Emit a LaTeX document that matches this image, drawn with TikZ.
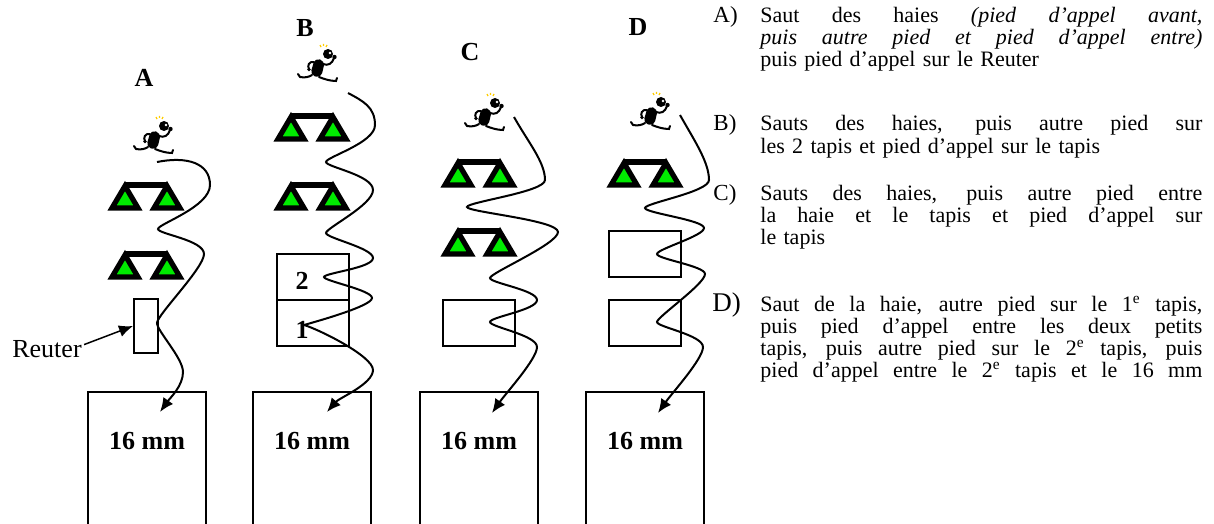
\documentclass[tikz,border=0pt]{standalone}
\usepackage{fontspec}
\setmainfont{Liberation Serif}
\usetikzlibrary{arrows.meta}
\newlength\legw
\setlength\legw{221pt}
% one line of a justified paragraph, spaces stretched to the full width
\newcommand\justline[1]{\hbox to\legw{\spaceskip=.25em plus 1fil\relax\xspaceskip=.25em plus 1fil\relax #1}}
\definecolor{hgreen}{RGB}{0,235,0}
\definecolor{spark}{RGB}{255,205,0}
\begin{document}
\begin{tikzpicture}[x=0.5pt,y=-0.5pt,
  mat/.style={draw,line width=1pt,inner sep=0pt,minimum width=36pt,minimum height=23pt},
  reuterbox/.style={draw,line width=1pt,inner sep=0pt,minimum width=12pt,minimum height=27pt},
  bigmat/.style={draw,line width=1pt,inner sep=0pt,minimum width=59pt,minimum height=80pt},
  boldtext/.style={inner sep=0pt,font=\fontsize{13}{15}\selectfont\bfseries},
  legtext/.style={anchor=base west,inner sep=0pt,text width=\legw,align=left,font=\fontsize{11}{11}\selectfont},
  leglabel/.style={anchor=base west,inner sep=0pt,font=\fontsize{11.5}{11}\selectfont},
  wave/.style={line width=1pt,-{Latex[length=7pt,width=6pt]}},
  limb/.style={line width=1pt,line cap=round},
  hurdle/.pic={
    \draw[line width=2.6pt,fill=hgreen,line join=miter] (-34,12) -- (-8,12) -- (-21,-10) -- cycle;
    \draw[line width=2.6pt,fill=hgreen,line join=miter] (8,12) -- (34,12) -- (21,-10) -- cycle;
    \draw[line width=2.6pt] (-21,-11) -- (21,-11);
  },
  runner/.pic={
    \draw[spark,line width=0.6pt] (2,-23) -- (3,-21) (5.5,-24) -- (5.5,-22) (9,-23) -- (8,-21);
    \fill (10,-14) circle[radius=5];
    \fill[white] (12,-15) circle[radius=1.3];
    \fill[rounded corners=2.5] (-3,-10) -- (7,-7) -- (3,10) -- (-8,7) -- cycle;
    \draw[limb] (5,-4) .. controls (10,-2) and (14,-4) .. (16,-10);
    \fill (16.5,-11) circle[radius=2.2];
    \draw[limb] (-4,-6) .. controls (-9,-7) and (-11,-2) .. (-9,1);
    \fill (-9,1.5) circle[radius=1.8];
    \draw[limb] (-6,7) .. controls (-9,9) and (-13,10) .. (-18,9) -- (-20,6);
    \draw[limb] (1,9) .. controls (6,11) and (12,13) .. (18,13) -- (19,10);
  }
]
\useasboundingbox (0,0) rectangle (1214,524);

% column headings
\node[boldtext] (hA) at (144,78) {A};
\node[boldtext] (hB) at (305,28) {B};
\node[boldtext] (hC) at (470,52) {C};
\node[boldtext] (hD) at (638,27) {D};

% runners
\pic at (154,140) {runner};
\pic at (318,68) {runner};
\pic at (485,117) {runner};
\pic at (651,116) {runner};

% hurdles
\pic at (146,196) {hurdle};
\pic at (146,265) {hurdle};
\pic at (312,127) {hurdle};
\pic at (312,196) {hurdle};
\pic at (479,173) {hurdle};
\pic at (479,242) {hurdle};
\pic at (645,173) {hurdle};

% Reuter board and small mats
\node[reuterbox] (reuter) at (146,326) {};
\node[mat] (b2) at (312.5,277) {};
\node[mat] (b1) at (312.5,323) {};
\node[boldtext] (n2) at (302,281) {2};
\node[boldtext] (n1) at (302,330) {1};
\node[mat] (c1) at (479,323) {};
\node[mat] (d2) at (645,254) {};
\node[mat] (d1) at (645,323) {};

% 16 mm landing mats
\foreach \n/\x in {A/147,B/312,C/479,D/645}{
  \node[bigmat] (big\n) at (\x,472) {};
  \node[boldtext] (mm\n) at ([yshift=-25pt]big\n.north) {16 mm};
}

% Reuter label
\node[inner sep=0pt,anchor=base,font=\fontsize{13}{15}\selectfont] (rt) at (47,357) {Reuter};
\draw[line width=0.75pt,-{Latex[length=7pt,width=6pt]}] ([xshift=1pt,yshift=2pt]rt.east) -- (reuter.west);

% run-up paths
\coordinate (sA) at (157,162);
\coordinate (eA) at (160,412);
\draw[wave] (sA) .. controls +(30,-6) and +(0,-22) .. (210,185)
  .. controls +(0,22) and +(0,-5) .. (158,229)
  .. controls +(0,5) and +(0,-14) .. (204,254)
  .. controls +(0,14) and +(0,-8) .. (157,323)
  .. controls +(0,8) and +(0,-14) .. (183,372)
  .. controls +(0,14) and +(10,-14) .. (eA);

\coordinate (sB) at (348,93);
\coordinate (eB) at (327,412);
\draw[wave] (sB) .. controls +(15,8) and +(0,-18) .. (375,125)
  .. controls +(0,18) and +(0,-5) .. (326,162)
  .. controls +(0,5) and +(0,-15) .. (373,190)
  .. controls +(0,15) and +(0,-5) .. (326,233)
  .. controls +(0,5) and +(0,-10) .. (373,258)
  .. controls +(0,10) and +(0,-4) .. (324,277)
  .. controls +(0,4) and +(0,-8) .. (372,298)
  .. controls +(0,8) and +(14,-4) .. (304,325)
  .. controls +(14,4) and +(0,-14) .. (373,370)
  .. controls +(0,14) and +(12,-14) .. (eB);

\coordinate (sC) at (514,117);
\coordinate (eC) at (492,413);
\draw[wave] (sC) .. controls +(14,25) and +(0,-18) .. (545,180)
  .. controls +(0,12) and +(0,-5) .. (467,207)
  .. controls +(0,5) and +(0,-12) .. (558,232)
  .. controls +(0,12) and +(0,-5) .. (490,278)
  .. controls +(0,5) and +(0,-10) .. (537,300)
  .. controls +(0,10) and +(0,-5) .. (490,322)
  .. controls +(0,5) and +(0,-12) .. (537,347)
  .. controls +(0,12) and +(14,-20) .. (eC);

\coordinate (sD) at (680,115);
\coordinate (eD) at (658,413);
\draw[wave] (sD) .. controls +(14,25) and +(0,-18) .. (709,180)
  .. controls +(0,12) and +(0,-5) .. (645,208)
  .. controls +(0,5) and +(0,-8) .. (704,228)
  .. controls +(0,8) and +(0,-5) .. (657,254)
  .. controls +(0,5) and +(0,-8) .. (705,274)
  .. controls +(0,10) and +(0,-5) .. (657,322)
  .. controls +(0,5) and +(0,-12) .. (703,347)
  .. controls +(0,12) and +(14,-20) .. (eD);

% legend
\node[leglabel] (lA) at (713,23) {A)};
\node[legtext] (tA) at (760,23) {\justline{Saut des haies \textit{(pied d’appel avant,}}
  \justline{\textit{puis autre pied et pied d’appel entre)}}
  puis pied d’appel sur le Reuter};
\node[leglabel] (lB) at (713,131) {B)};
\node[legtext] (tB) at (760,131) {\justline{Sauts des haies, puis autre pied sur}
  les 2 tapis et pied d’appel sur le tapis};
\node[leglabel] (lC) at (713,200) {C)};
\node[legtext] (tC) at (760,200) {\justline{Sauts des haies, puis autre pied entre}
  \justline{la haie et le tapis et pied d’appel sur}
  le tapis};
\node[leglabel,font=\fontsize{13.5}{13}\selectfont] (lD) at (712,311) {D)};
\node[legtext] (tD) at (760,311) {\justline{Saut de la haie, autre pied sur le 1\textsuperscript{e} tapis,}
  \justline{puis pied d’appel entre les deux petits}
  \justline{tapis, puis autre pied sur le 2\textsuperscript{e} tapis, puis}
  \justline{pied d’appel entre le 2\textsuperscript{e} tapis et le 16 mm}};
\end{tikzpicture}
\end{document}
